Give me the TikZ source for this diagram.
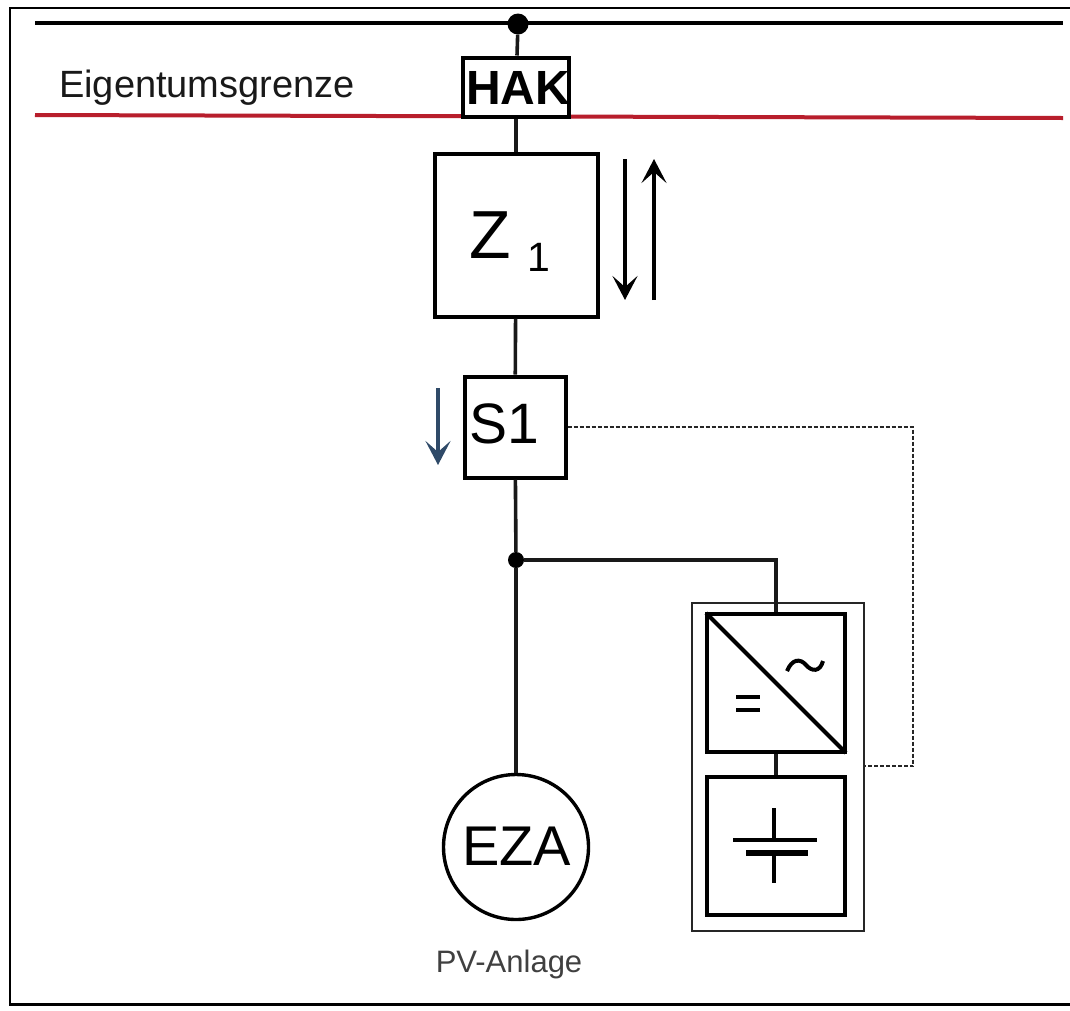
\documentclass[tikz,border=0pt]{standalone}
\usepackage{fontspec}
\setmainfont{Liberation Sans}
\usetikzlibrary{arrows.meta,shapes.geometric}
\definecolor{flowblue}{HTML}{2F4A68}
\definecolor{gridred}{HTML}{B81E2C}
\tikzset{
  x=1pt,y=-1pt,
  wire/.style={line width=3.6pt,black!90},
  box/.style={draw=black,line width=4pt,fill=white,minimum width=#1,minimum height=#1,inner sep=0pt},
  flow/.style={line width=3.2pt,-{Stealth[length=24pt,width=25pt,inset=11pt]}},
  ctrl/.style={line width=1.5pt,dash pattern=on 4pt off 2pt,black!85},
  dotn/.style={ellipse,fill=black,inner sep=0pt,minimum width=#1,minimum height=#1},
  lbl/.style={inner sep=0pt,anchor=base},
}
\begin{document}
\begin{tikzpicture}
\useasboundingbox (0,0) rectangle (1070,1010);
\fill[white] (0,0) rectangle (1070,1010);
% frame
\draw[line width=2.6pt,black] (1070,8) -- (10,8) -- (10,1004.5) -- (1070,1004.5);
% busbar and boundary
\coordinate (busL) at (35,23);
\coordinate (busR) at (1063,23);
\coordinate (redL) at (35,115);
\coordinate (redR) at (1063,118);
\draw[line width=4pt] (busL) -- (busR);
\draw[line width=4pt,gridred] (redL) -- (redR);
\node[dotn=21pt] (top) at (518,24) {};
% main boxes
\node[draw=black,line width=4pt,fill=white,minimum width=106pt,minimum height=59pt,inner sep=0pt] (hak) at (516,87) {};
\node[lbl,font=\bfseries\fontsize{48}{48}\selectfont] at (518,104) {HAK};
\node[draw=black,line width=4pt,fill=white,minimum width=163pt,minimum height=163pt,inner sep=0pt] (z) at (516,235) {};
\node[lbl,font=\fontsize{68}{68}\selectfont] at (490,258) {Z};
\node[lbl,font=\fontsize{41}{41}\selectfont] at (539,271) {1};
\node[box=101pt] (s) at (515,427) {};
\node[lbl,font=\fontsize{57}{57}\selectfont] at (504,443) {S1};
\node[dotn=16pt] (j) at (516,560) {};
\node[circle,draw=black,line width=3.4pt,fill=white,minimum size=145pt,inner sep=0pt] (eza) at (516,847) {};
\node[lbl,font=\fontsize{56}{56}\selectfont] at (516.5,865) {EZA};
\node[lbl,font=\fontsize{31}{31}\selectfont,text=black!75] at (509,972) {PV-Anlage};
\node[lbl,font=\fontsize{38}{38}\selectfont,text=black!90] at (207,97) {Eigentumsgrenze};
% storage enclosure
\node[draw=black!85,line width=1.8pt,fill=white,minimum width=172pt,minimum height=328pt,inner sep=0pt] (encl) at (778,767) {};
\node[box=138pt] (inv) at (776,683) {};
\node[box=138pt] (bat) at (776,846) {};
% inverter symbols
\draw[line width=4pt,shorten <=1.5pt,shorten >=1.5pt] (inv.north west) -- (inv.south east);
\draw[line width=4pt] (736,697) -- (760,697) (736,710) -- (760,710);
\draw[line width=4pt] (787,671) .. controls (792,659) and (800,658) .. (806,665) .. controls (812,672) and (820,672) .. (823,661);
% battery symbol
\draw[line width=3.6pt] (774,808) -- (774,840);
\draw[line width=4pt] (733,840) -- (817,840);
\draw[line width=6pt] (746,853) -- (808,853);
\draw[line width=3.6pt] (774,853) -- (774,883);
% connectors
\draw[wire] (top) -- (hak);
\draw[wire] (hak) -- (z);
\draw[wire] (z) -- (s);
\draw[wire] (s) -- (j);
\draw[wire] (j) -- (eza);
\draw[wire] (j) -| (inv.north);
\draw[wire] (inv) -- (bat);
\draw[ctrl] (s.east) -| (913,766) -- (encl.east |- 0,766);
% arrows
\coordinate (a1) at (625,159);
\coordinate (a2) at (625,300);
\coordinate (a3) at (654,300);
\coordinate (a4) at (654,159);
\coordinate (a5) at (438,388);
\coordinate (a6) at (438,465);
\draw[flow] (a1) -- (a2);
\draw[flow] (a3) -- (a4);
\draw[flow,flowblue] (a5) -- (a6);
\end{tikzpicture}
\end{document}
